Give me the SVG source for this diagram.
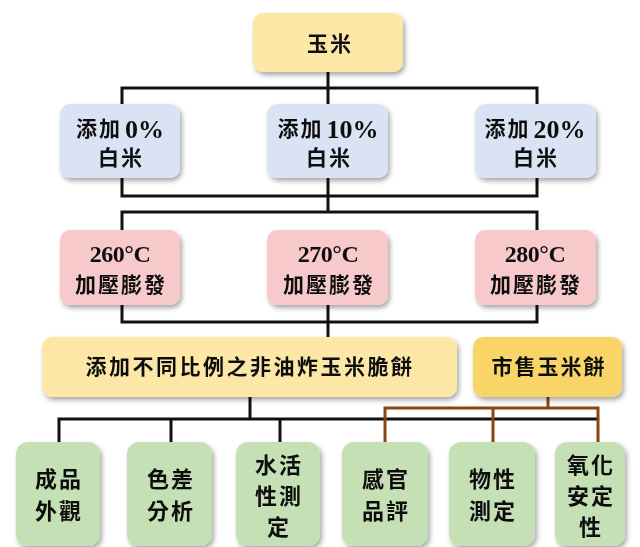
<svg xmlns="http://www.w3.org/2000/svg" width="640" height="547" viewBox="0 0 640 547">
<style>
.t{font-family:"Liberation Serif","Noto Sans CJK TC",serif;font-weight:bold;font-size:21px;letter-spacing:2px;fill:#111;text-anchor:middle;dominant-baseline:central}
.l{font-size:26px;letter-spacing:0}
.c{font-size:24px;letter-spacing:-0.5px}
.s{font-size:22px}
.y{fill:#fce7a6}
.g{fill:#f9d466}
.b{fill:#dae3f3}
.p{fill:#f7c9cb}
.gr{fill:#c5e0b4}
.k{stroke:#111;stroke-width:3;fill:none}
.br{stroke:#8b4513;stroke-width:3;fill:none}
</style>
<defs>
<filter id="sh" x="-20%" y="-20%" width="140%" height="150%">
<feDropShadow dx="2" dy="3" stdDeviation="2.5" flood-color="#000" flood-opacity="0.35"/>
</filter>
</defs>
<rect width="640" height="547" fill="#fff"/>
<g id="connectors">
<path class="k" d="M328 72V88M122 104V88H537V104M328 88V104"/>
<path class="k" d="M122 178V196H537V178M328 178V212M122 230V212H537V230"/>
<path class="k" d="M122 305V322H537V305M328 305V337"/>
<path class="k" d="M250 397V419M59 442V419H598M171 419V442M280 419V442"/>
<path class="br" d="M548 397V408M385 442V408H598V442M493 408V442"/>
</g>
<g id="n-corn" filter="url(#sh)"><rect class="y" x="253" y="13" width="150" height="59" rx="10"/><text class="t" x="330" y="44">玉米</text></g>
<g id="n-r0" filter="url(#sh)"><rect class="b" x="60" y="104" width="120" height="74" rx="10"/><text class="t" x="120" y="129">添加<tspan class="l" dx="3">0%</tspan></text><text class="t" x="121" y="158">白米</text></g>
<g id="n-r10" filter="url(#sh)"><rect class="b" x="267" y="104" width="121" height="74" rx="10"/><text class="t" x="328" y="129">添加<tspan class="l" dx="3">10%</tspan></text><text class="t" x="329" y="158">白米</text></g>
<g id="n-r20" filter="url(#sh)"><rect class="b" x="475" y="104" width="121" height="74" rx="10"/><text class="t" x="535" y="129">添加<tspan class="l" dx="3">20%</tspan></text><text class="t" x="536" y="158">白米</text></g>
<g id="n-t260" filter="url(#sh)"><rect class="p" x="60" y="230" width="120" height="75" rx="10"/><text class="t c" x="120" y="254">260°C</text><text class="t" x="121" y="285">加壓膨發</text></g>
<g id="n-t270" filter="url(#sh)"><rect class="p" x="267" y="230" width="121" height="75" rx="10"/><text class="t c" x="328" y="254">270°C</text><text class="t" x="329" y="285">加壓膨發</text></g>
<g id="n-t280" filter="url(#sh)"><rect class="p" x="475" y="230" width="121" height="75" rx="10"/><text class="t c" x="535" y="254">280°C</text><text class="t" x="536" y="285">加壓膨發</text></g>
<g id="n-product" filter="url(#sh)"><rect class="y" x="42" y="337" width="415" height="60" rx="10"/><text class="t" x="250" y="367" style="letter-spacing:2.5px">添加不同比例之非油炸玉米脆餅</text></g>
<g id="n-market" filter="url(#sh)"><rect class="g" x="473" y="337" width="149" height="60" rx="10"/><text class="t" x="549" y="367">市售玉米餅</text></g>
<g id="n-a1" filter="url(#sh)"><rect class="gr" x="16" y="442" width="84" height="104" rx="12"/><text class="t s" x="59" y="479">成品</text><text class="t s" x="59" y="511">外觀</text></g>
<g id="n-a2" filter="url(#sh)"><rect class="gr" x="127" y="442" width="85" height="104" rx="12"/><text class="t s" x="171" y="479">色差</text><text class="t s" x="171" y="511">分析</text></g>
<g id="n-a3" filter="url(#sh)"><rect class="gr" x="236" y="442" width="84" height="104" rx="12"/><text class="t s" x="279" y="465">水活</text><text class="t s" x="279" y="496">性測</text><text class="t s" x="279" y="527">定</text></g>
<g id="n-a4" filter="url(#sh)"><rect class="gr" x="342" y="442" width="86" height="104" rx="12"/><text class="t s" x="386" y="479">感官</text><text class="t s" x="386" y="511">品評</text></g>
<g id="n-a5" filter="url(#sh)"><rect class="gr" x="449" y="442" width="86" height="104" rx="12"/><text class="t s" x="493" y="479">物性</text><text class="t s" x="493" y="511">測定</text></g>
<g id="n-a6" filter="url(#sh)"><rect class="gr" x="555" y="442" width="70" height="104" rx="12"/><text class="t s" x="591" y="465">氧化</text><text class="t s" x="591" y="496">安定</text><text class="t s" x="591" y="527">性</text></g>
</svg>
